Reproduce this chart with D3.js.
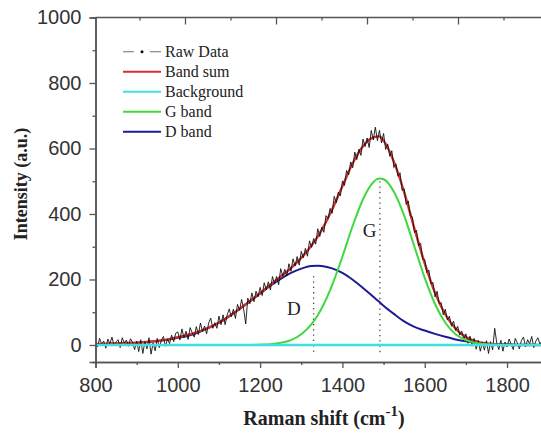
<!DOCTYPE html>
<html>
<head>
<meta charset="utf-8">
<script src="https://cdn.jsdelivr.net/npm/d3@7"></script>
<style>
  body { margin: 0; background: #fff; }
  svg { display: block; }
</style>
</head>
<body>
<script>
// fitted curves (cm-1 / a.u.)
var fitX    = [800, 825, 850, 875, 900, 925, 950, 975, 1000, 1025, 1050, 1075, 1100, 1125, 1150, 1175, 1200, 1225, 1250, 1275, 1300, 1325, 1340, 1350, 1375, 1400, 1425, 1450, 1475, 1490, 1500, 1525, 1550, 1575, 1600, 1625, 1650, 1675, 1700, 1725, 1750, 1775, 1800, 1825, 1850, 1875, 1890];
var dBand   = [2, 3, 4, 5, 7, 9, 12, 16, 22, 28, 38, 52, 68, 88, 110, 133, 157, 181, 202, 220, 233, 241, 242, 241, 234, 220, 199, 174, 147, 131, 120, 95, 72, 55, 44, 34, 25, 17, 11, 7, 4, 3, 2, 1, 1, 0, 0];
var gBand   = [0, 0, 0, 0, 0, 0, 0, 0, 0, 0, 0, 0, 0, 0, 0, 0, 1, 2.5, 6.5, 15, 33, 64, 91, 113, 183, 270, 364, 445, 497, 508, 506, 468, 395, 300, 205, 125, 68, 33, 15, 6, 2, 0.5, 0, 0, 0, 0, 0];
var bandSum = [3, 4, 5, 6, 7, 9, 12, 17, 24, 31, 40, 53, 68, 88, 110, 134, 158, 184, 209, 235, 266, 304, 331, 352, 414, 485, 555, 607, 634, 637, 624, 560, 467, 355, 249, 159, 93, 50, 24, 11, 5, 2, 1, 0, 0, 0, 0];
var background = [0, 0];
var backgroundX = [800, 1890];

// raw spectrum, one value every 5 cm-1 from 800
var rawStart = 800, rawStep = 5;
var rawY = [
  14, -6, 20, 2, 12, -10, 18, 4, 24, -2, 10, 16, -8, 22, 6, 15, -4, 19, 8, -14,
  12, -20, 16, -26, 10, -12, 22, -28, 6, -18, 20, -8, 14, 26, -4, 18, 4, 30, 10, 36,
  40, 15, 49, 22, 42, 17, 53, 37, 24, 56, 32, 67, 41, 58, 34, 67, 82, 51, 68, 51,
  88, 62, 92, 62, 92, 110, 86, 109, 81, 124, 106, 139, 110, 64, 143, 126, 159, 132, 164, 147,
  176, 151, 190, 168, 193, 168, 209, 186, 209, 184, 233, 210, 231, 211, 248, 225, 263, 241, 270, 244,
  286, 266, 295, 271, 318, 298, 325, 308, 355, 331, 360, 344, 395, 385, 417, 402, 454, 434, 467, 455,
  501, 487, 533, 519, 559, 541, 589, 566, 598, 579, 629, 606, 632, 603, 655, 626, 665, 624, 655, 617,
  646, 597, 614, 576, 593, 542, 553, 515, 526, 472, 477, 429, 440, 394, 391, 343, 350, 303, 311, 262,
  261, 221, 229, 187, 191, 147, 164, 127, 129, 92, 109, 76, 88, 57, 73, 44, 57, 30, 42, 17,
  34, 5, 27, -4, 20, -13, 14, -19, 9, -16, 13, -26, 10, -15, 51, 6, -14, 14, -19, 9,
  -6, 18, 2, -14, 20, 6, -12, 14, 24, -6, 16, 4, 26, -8, 12, 22, 2, 14];

var xTicks = [800, 1000, 1200, 1400, 1600, 1800];
var xMinor = [900, 1100, 1300, 1500, 1700, 1900];
var yTicks = [0, 200, 400, 600, 800, 1000];
var yMinor = [100, 300, 500, 700, 900];

var peakLines = [
  {name: "D", x: 1330, top: 210},
  {name: "G", x: 1491, top: 500}
];
var peakLabels = [
  {name: "D", x: 1282, y: 92},
  {name: "G", x: 1466, y: 330}
];

var legendItems = [
  {label: "Raw Data", color: "#000", raw: true},
  {label: "Band sum", color: "#d8302e"},
  {label: "Background", color: "#3fe0e0"},
  {label: "G band", color: "#3fd83f"},
  {label: "D band", color: "#1c1c96"}
];

var svg = d3.select("body").append("svg")
    .attr("width", 541)
    .attr("height", 433);

var x = d3.scaleLinear().domain([800, 1900]).range([95.5, 548.2]);
var y = d3.scaleLinear().domain([-52, 1000]).range([362, 17.5]);

var tickFont = "'Liberation Sans', Arial, sans-serif";
var serif = "'Liberation Serif', 'Times New Roman', serif";
var axisColor = "#555";

// clip for plot content
svg.append("clipPath").attr("id", "plotclip")
  .append("rect")
    .attr("x", 95.5).attr("y", 17.5)
    .attr("width", 460).attr("height", 344.5);

var plot = svg.append("g").attr("clip-path", "url(#plotclip)");

var line = d3.line()
    .x(function(d) { return x(d[0]); })
    .y(function(d) { return y(d[1]); });

var smooth = d3.line()
    .curve(d3.curveMonotoneX)
    .x(function(d) { return x(d[0]); })
    .y(function(d) { return y(d[1]); });

var rawData = rawY.map(function(v, i) { return [rawStart + i * rawStep, v]; });

function zipFit(vals) {
  return fitX.map(function(v, i) { return [v, vals[i]]; });
}

// dotted peak position markers
peakLines.forEach(function(p) {
  plot.append("line")
      .attr("x1", x(p.x)).attr("x2", x(p.x))
      .attr("y1", y(p.top)).attr("y2", y(-32))
      .attr("stroke", "#444")
      .attr("stroke-width", 1.3)
      .attr("stroke-dasharray", "1.3,4");
});

plot.append("path")
    .datum(zipFit(dBand))
    .attr("fill", "none")
    .attr("stroke", legendItems[4].color)
    .attr("stroke-width", 2)
    .attr("d", smooth);

plot.append("path")
    .datum(zipFit(bandSum))
    .attr("fill", "none")
    .attr("stroke", legendItems[1].color)
    .attr("stroke-width", 2.4)
    .attr("d", smooth);

plot.append("path")
    .datum(rawData)
    .attr("fill", "none")
    .attr("stroke", "#111")
    .attr("stroke-width", 0.9)
    .attr("d", line);

plot.append("path")
    .datum(zipFit(gBand))
    .attr("fill", "none")
    .attr("stroke", legendItems[3].color)
    .attr("stroke-width", 2)
    .attr("d", smooth);

plot.append("path")
    .datum(backgroundX.map(function(v, i) { return [v, background[i]]; }))
    .attr("fill", "none")
    .attr("stroke", legendItems[2].color)
    .attr("stroke-width", 2.5)
    .attr("d", line);

// peak letters
peakLabels.forEach(function(p) {
  svg.append("text")
      .attr("x", x(p.x)).attr("y", y(p.y))
      .attr("text-anchor", "middle")
      .attr("font-family", serif)
      .attr("font-size", 19)
      .attr("fill", "#222")
      .text(p.name);
});

// frame lines
svg.append("line")
    .attr("x1", 95.5).attr("x2", 541).attr("y1", 17.5).attr("y2", 17.5)
    .attr("stroke", axisColor).attr("stroke-width", 1.5);

var fmt = d3.format("d");

// left axis
var yAxis = svg.append("g")
    .attr("transform", "translate(95.5,0)")
    .call(d3.axisLeft(y).tickValues(yTicks).tickFormat(fmt).tickSize(6).tickPadding(8));
var yAxisMinor = svg.append("g")
    .attr("transform", "translate(95.5,0)")
    .call(d3.axisLeft(y).tickValues(yMinor).tickSize(3).tickFormat(""));

// bottom axis
var xAxis = svg.append("g")
    .attr("transform", "translate(0,362)")
    .call(d3.axisBottom(x).tickValues(xTicks).tickFormat(fmt).tickSize(6).tickPadding(10));
var xAxisMinor = svg.append("g")
    .attr("transform", "translate(0,362)")
    .call(d3.axisBottom(x).tickValues(xMinor).tickSize(3).tickFormat(""));

// top axis has its own tick spacing in the figure
var xTop = d3.scaleLinear().domain([0, 4]).range([185, 549]);
var topAxis = svg.append("g")
    .attr("transform", "translate(0,17.5)")
    .call(d3.axisBottom(xTop).tickValues([0, 1, 2, 3, 4]).tickSize(7).tickFormat(""));
var topMinor = svg.append("g")
    .attr("transform", "translate(0,17.5)")
    .call(d3.axisBottom(xTop).tickValues([-0.5, 0.5, 1.5, 2.5, 3.5]).tickSize(3).tickFormat(""));

[yAxis, yAxisMinor, xAxis, xAxisMinor, topAxis, topMinor].forEach(function(a) {
  a.select(".domain").attr("stroke", axisColor).attr("stroke-width", 1.5);
  a.selectAll(".tick line").attr("stroke", axisColor).attr("stroke-width", 1.3);
  a.selectAll("text")
      .attr("font-family", tickFont)
      .attr("font-size", 20)
      .attr("fill", "#333");
});
topAxis.select(".domain").remove();
topMinor.select(".domain").remove();

// axis titles
svg.append("text")
    .attr("transform", "translate(27,184) rotate(-90)")
    .attr("text-anchor", "middle")
    .attr("font-family", serif)
    .attr("font-weight", "bold")
    .attr("font-size", 18)
    .attr("fill", "#222")
    .text("Intensity (a.u.)");

var xt = svg.append("text")
    .attr("x", 324).attr("y", 425)
    .attr("text-anchor", "middle")
    .attr("font-family", serif)
    .attr("font-weight", "bold")
    .attr("font-size", 20)
    .attr("fill", "#222");
xt.append("tspan").text("Raman shift (cm");
xt.append("tspan").attr("dy", -9).attr("font-size", 15).text("-1");
xt.append("tspan").attr("dy", 9).text(")");

// legend
var legend = svg.append("g");
legendItems.forEach(function(d, i) {
  var cy = 51.7 + i * 20;
  if (d.raw) {
    legend.append("line")
        .attr("x1", 123).attr("x2", 134).attr("y1", cy).attr("y2", cy)
        .attr("stroke", "#888").attr("stroke-width", 1.2);
    legend.append("line")
        .attr("x1", 150).attr("x2", 161).attr("y1", cy).attr("y2", cy)
        .attr("stroke", "#888").attr("stroke-width", 1.2);
    legend.append("circle")
        .attr("cx", 142).attr("cy", cy).attr("r", 1.5)
        .attr("fill", "#000");
  } else {
    legend.append("line")
        .attr("x1", 123).attr("x2", 161).attr("y1", cy).attr("y2", cy)
        .attr("stroke", d.color).attr("stroke-width", 2);
  }
  legend.append("text")
      .attr("x", 165).attr("y", cy + 5)
      .attr("font-family", serif)
      .attr("font-size", 16)
      .attr("fill", "#222")
      .text(d.label);
});
</script>
</body>
</html>
